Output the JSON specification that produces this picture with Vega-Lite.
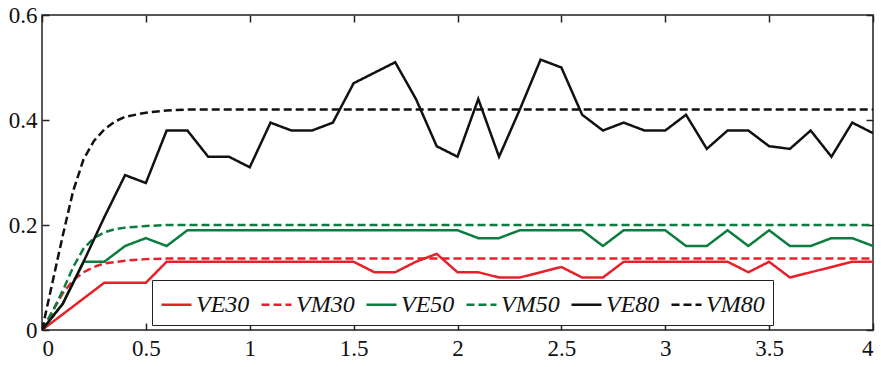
{
  "$schema": "https://vega.github.io/schema/vega-lite/v6.json",
  "width": 831,
  "height": 315,
  "autosize": "none",
  "padding": {"left": 42, "top": 15, "right": 8, "bottom": 37},
  "background": "white",
  "config": {
    "view": {"stroke": "#222", "strokeWidth": 1.5},
    "font": "Liberation Serif",
    "axis": {"grid": false, "domain": false, "tickColor": "#222", "tickWidth": 1.5, "tickSize": -7, "labelFont": "Liberation Serif", "labelFontSize": 23, "labelColor": "#111", "title": null}
  },
  "datasets": {
    "d": [
      {"x":0,"y":0,"s":"VE30"},{"x":0.1,"y":0.03,"s":"VE30"},{"x":0.2,"y":0.06,"s":"VE30"},{"x":0.3,"y":0.09,"s":"VE30"},{"x":0.4,"y":0.09,"s":"VE30"},{"x":0.5,"y":0.09,"s":"VE30"},{"x":0.6,"y":0.13,"s":"VE30"},{"x":0.7,"y":0.13,"s":"VE30"},{"x":0.8,"y":0.13,"s":"VE30"},{"x":0.9,"y":0.13,"s":"VE30"},{"x":1.0,"y":0.13,"s":"VE30"},{"x":1.1,"y":0.13,"s":"VE30"},{"x":1.2,"y":0.13,"s":"VE30"},{"x":1.3,"y":0.13,"s":"VE30"},{"x":1.4,"y":0.13,"s":"VE30"},{"x":1.5,"y":0.13,"s":"VE30"},{"x":1.6,"y":0.11,"s":"VE30"},{"x":1.7,"y":0.11,"s":"VE30"},{"x":1.8,"y":0.13,"s":"VE30"},{"x":1.9,"y":0.145,"s":"VE30"},{"x":2.0,"y":0.11,"s":"VE30"},{"x":2.1,"y":0.11,"s":"VE30"},{"x":2.2,"y":0.1,"s":"VE30"},{"x":2.3,"y":0.1,"s":"VE30"},{"x":2.4,"y":0.11,"s":"VE30"},{"x":2.5,"y":0.12,"s":"VE30"},{"x":2.6,"y":0.1,"s":"VE30"},{"x":2.7,"y":0.1,"s":"VE30"},{"x":2.8,"y":0.13,"s":"VE30"},{"x":2.9,"y":0.13,"s":"VE30"},{"x":3.0,"y":0.13,"s":"VE30"},{"x":3.1,"y":0.13,"s":"VE30"},{"x":3.2,"y":0.13,"s":"VE30"},{"x":3.3,"y":0.13,"s":"VE30"},{"x":3.4,"y":0.11,"s":"VE30"},{"x":3.5,"y":0.13,"s":"VE30"},{"x":3.6,"y":0.1,"s":"VE30"},{"x":3.7,"y":0.11,"s":"VE30"},{"x":3.8,"y":0.12,"s":"VE30"},{"x":3.9,"y":0.13,"s":"VE30"},{"x":4.0,"y":0.13,"s":"VE30"},
      {"x":0,"y":0,"s":"VM30"},{"x":0.05,"y":0.035,"s":"VM30"},{"x":0.1,"y":0.07,"s":"VM30"},{"x":0.15,"y":0.095,"s":"VM30"},{"x":0.2,"y":0.11,"s":"VM30"},{"x":0.25,"y":0.12,"s":"VM30"},{"x":0.3,"y":0.127,"s":"VM30"},{"x":0.4,"y":0.132,"s":"VM30"},{"x":0.5,"y":0.135,"s":"VM30"},{"x":0.6,"y":0.136,"s":"VM30"},{"x":4.0,"y":0.136,"s":"VM30"},
      {"x":0,"y":0,"s":"VE50"},{"x":0.1,"y":0.05,"s":"VE50"},{"x":0.2,"y":0.13,"s":"VE50"},{"x":0.3,"y":0.13,"s":"VE50"},{"x":0.4,"y":0.16,"s":"VE50"},{"x":0.5,"y":0.175,"s":"VE50"},{"x":0.6,"y":0.16,"s":"VE50"},{"x":0.7,"y":0.19,"s":"VE50"},{"x":0.8,"y":0.19,"s":"VE50"},{"x":0.9,"y":0.19,"s":"VE50"},{"x":1.0,"y":0.19,"s":"VE50"},{"x":1.1,"y":0.19,"s":"VE50"},{"x":1.2,"y":0.19,"s":"VE50"},{"x":1.3,"y":0.19,"s":"VE50"},{"x":1.4,"y":0.19,"s":"VE50"},{"x":1.5,"y":0.19,"s":"VE50"},{"x":1.6,"y":0.19,"s":"VE50"},{"x":1.7,"y":0.19,"s":"VE50"},{"x":1.8,"y":0.19,"s":"VE50"},{"x":1.9,"y":0.19,"s":"VE50"},{"x":2.0,"y":0.19,"s":"VE50"},{"x":2.1,"y":0.175,"s":"VE50"},{"x":2.2,"y":0.175,"s":"VE50"},{"x":2.3,"y":0.19,"s":"VE50"},{"x":2.4,"y":0.19,"s":"VE50"},{"x":2.5,"y":0.19,"s":"VE50"},{"x":2.6,"y":0.19,"s":"VE50"},{"x":2.7,"y":0.16,"s":"VE50"},{"x":2.8,"y":0.19,"s":"VE50"},{"x":2.9,"y":0.19,"s":"VE50"},{"x":3.0,"y":0.19,"s":"VE50"},{"x":3.1,"y":0.16,"s":"VE50"},{"x":3.2,"y":0.16,"s":"VE50"},{"x":3.3,"y":0.19,"s":"VE50"},{"x":3.4,"y":0.16,"s":"VE50"},{"x":3.5,"y":0.19,"s":"VE50"},{"x":3.6,"y":0.16,"s":"VE50"},{"x":3.7,"y":0.16,"s":"VE50"},{"x":3.8,"y":0.175,"s":"VE50"},{"x":3.9,"y":0.175,"s":"VE50"},{"x":4.0,"y":0.16,"s":"VE50"},
      {"x":0,"y":0,"s":"VM50"},{"x":0.05,"y":0.035,"s":"VM50"},{"x":0.1,"y":0.075,"s":"VM50"},{"x":0.15,"y":0.12,"s":"VM50"},{"x":0.2,"y":0.155,"s":"VM50"},{"x":0.25,"y":0.175,"s":"VM50"},{"x":0.3,"y":0.186,"s":"VM50"},{"x":0.35,"y":0.192,"s":"VM50"},{"x":0.4,"y":0.195,"s":"VM50"},{"x":0.5,"y":0.198,"s":"VM50"},{"x":0.6,"y":0.2,"s":"VM50"},{"x":4.0,"y":0.2,"s":"VM50"},
      {"x":0,"y":0,"s":"VE80"},{"x":0.1,"y":0.05,"s":"VE80"},{"x":0.2,"y":0.13,"s":"VE80"},{"x":0.3,"y":0.215,"s":"VE80"},{"x":0.4,"y":0.295,"s":"VE80"},{"x":0.5,"y":0.28,"s":"VE80"},{"x":0.6,"y":0.38,"s":"VE80"},{"x":0.7,"y":0.38,"s":"VE80"},{"x":0.8,"y":0.33,"s":"VE80"},{"x":0.9,"y":0.33,"s":"VE80"},{"x":1.0,"y":0.31,"s":"VE80"},{"x":1.1,"y":0.395,"s":"VE80"},{"x":1.2,"y":0.38,"s":"VE80"},{"x":1.3,"y":0.38,"s":"VE80"},{"x":1.4,"y":0.395,"s":"VE80"},{"x":1.5,"y":0.47,"s":"VE80"},{"x":1.6,"y":0.49,"s":"VE80"},{"x":1.7,"y":0.51,"s":"VE80"},{"x":1.8,"y":0.44,"s":"VE80"},{"x":1.9,"y":0.35,"s":"VE80"},{"x":2.0,"y":0.33,"s":"VE80"},{"x":2.1,"y":0.44,"s":"VE80"},{"x":2.2,"y":0.33,"s":"VE80"},{"x":2.3,"y":0.42,"s":"VE80"},{"x":2.4,"y":0.515,"s":"VE80"},{"x":2.5,"y":0.5,"s":"VE80"},{"x":2.6,"y":0.41,"s":"VE80"},{"x":2.7,"y":0.38,"s":"VE80"},{"x":2.8,"y":0.395,"s":"VE80"},{"x":2.9,"y":0.38,"s":"VE80"},{"x":3.0,"y":0.38,"s":"VE80"},{"x":3.1,"y":0.41,"s":"VE80"},{"x":3.2,"y":0.345,"s":"VE80"},{"x":3.3,"y":0.38,"s":"VE80"},{"x":3.4,"y":0.38,"s":"VE80"},{"x":3.5,"y":0.35,"s":"VE80"},{"x":3.6,"y":0.345,"s":"VE80"},{"x":3.7,"y":0.38,"s":"VE80"},{"x":3.8,"y":0.33,"s":"VE80"},{"x":3.9,"y":0.395,"s":"VE80"},{"x":4.0,"y":0.375,"s":"VE80"},
      {"x":0,"y":0,"s":"VM80"},{"x":0.05,"y":0.09,"s":"VM80"},{"x":0.1,"y":0.18,"s":"VM80"},{"x":0.15,"y":0.265,"s":"VM80"},{"x":0.2,"y":0.325,"s":"VM80"},{"x":0.25,"y":0.36,"s":"VM80"},{"x":0.3,"y":0.382,"s":"VM80"},{"x":0.35,"y":0.397,"s":"VM80"},{"x":0.4,"y":0.406,"s":"VM80"},{"x":0.5,"y":0.414,"s":"VM80"},{"x":0.6,"y":0.418,"s":"VM80"},{"x":0.7,"y":0.42,"s":"VM80"},{"x":4.0,"y":0.42,"s":"VM80"}
    ]
  },
  "data": {"name": "d"},
  "layer": [
    {
      "mark": {"type": "line", "strokeWidth": 2.5, "clip": true},
      "encoding": {
        "x": {"field": "x", "type": "quantitative", "scale": {"domain": [0, 4], "nice": false, "zero": false},
              "axis": {"orient": "bottom", "values": [0,0.5,1,1.5,2,2.5,3,3.5,4], "labelExpr": "format(datum.value, '~g')", "labelPadding": 14}},
        "y": {"field": "y", "type": "quantitative", "scale": {"domain": [0, 0.6], "nice": false},
              "axis": {"orient": "left", "values": [0,0.2,0.4,0.6], "labelExpr": "format(datum.value, '~g')", "labelPadding": 12}},
        "color": {"field": "s", "type": "nominal",
                  "scale": {"domain": ["VE30","VM30","VE50","VM50","VE80","VM80"], "range": ["#e8202a","#e8202a","#0b7d3e","#0b7d3e","#111111","#111111"]},
                  "legend": {"orient": "none", "legendX": 110, "legendY": 265, "direction": "horizontal", "columns": 6, "title": null,
                             "fillColor": "white", "strokeColor": "#222", "padding": 8, "symbolType": "stroke", "symbolSize": 900, "symbolStrokeWidth": 2.5,
                             "labelFont": "Liberation Serif", "labelFontStyle": "italic", "labelFontSize": 24, "labelColor": "#111", "columnPadding": 6, "labelOffset": 3}},
        "strokeDash": {"field": "s", "type": "nominal",
                       "scale": {"domain": ["VE30","VM30","VE50","VM50","VE80","VM80"], "range": [[1,0],[8,4],[1,0],[8,4],[1,0],[8,4]]},
                       "legend": null},
        "order": {"field": "x", "type": "quantitative"}
      }
    },
    {
      "mark": {"type": "point", "opacity": 0},
      "encoding": {
        "x": {"field": "x", "type": "quantitative", "axis": {"orient": "top", "values": [0,0.5,1,1.5,2,2.5,3,3.5,4], "labels": false}},
        "y": {"field": "y", "type": "quantitative", "axis": {"orient": "right", "values": [0,0.2,0.4,0.6], "labels": false}}
      }
    }
  ],
  "resolve": {"axis": {"x": "independent", "y": "independent"}}
}
